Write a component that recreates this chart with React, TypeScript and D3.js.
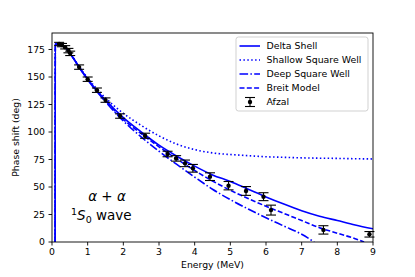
import React from 'react';
import * as d3 from 'd3';

// Afzal data points
const afzalEnergy = [0.2, 0.28, 0.37, 0.46, 0.51, 0.76, 1.0, 1.26, 1.5, 1.91, 2.61, 3.24, 3.48, 3.73, 3.95, 4.43, 4.95, 5.44, 5.93, 6.14, 7.61, 8.9];
const afzalPhase = [180, 179, 177, 174, 171.5, 159, 148, 138, 129, 114.5, 96.6, 80, 76, 71.5, 67, 59.4, 51.2, 46.4, 41.2, 29, 11, 7];
const afzalError = [1.5, 1.5, 1.5, 2, 2, 2, 2, 2, 2, 2, 2.3, 2.5, 2.5, 3, 3.5, 3.5, 3.8, 4, 3.6, 4.5, 3.8, 2.5];

// model curves
const modelEnergy = [0.088, 0.092, 0.2, 0.4, 0.6, 0.8, 1.0, 1.25, 1.5, 2.0, 2.5, 3.0, 3.5, 4.0, 4.5, 5.0, 5.5, 6.0, 6.5, 7.0, 7.5, 8.0, 8.5, 9.0];
const deltaShell = [0, 180, 179.5, 176, 167, 157, 148, 138, 129, 113, 100, 88, 78, 69, 61, 55, 48, 41, 34.5, 28.5, 23.5, 19.5, 15.5, 12];
const shallowWell = [0, 180, 179.5, 176, 167, 157.5, 149, 139.5, 131, 117, 106, 96.5, 89, 84, 81, 79.5, 78.5, 77.5, 77, 76.5, 76.2, 76, 75.7, 75.5];
const deepEnergy = [0.088, 0.092, 0.2, 0.4, 0.6, 0.8, 1.0, 1.25, 1.5, 2.0, 2.5, 3.0, 3.5, 4.0, 4.5, 5.0, 5.5, 6.0, 6.5, 7.0, 7.35];
const deepWell = [0, 180, 179.5, 176, 167, 157, 147.5, 137, 127.5, 110, 95.5, 82.5, 70.5, 59, 48, 38.5, 30, 22, 14.5, 7, 0];
const breitEnergy = [0.088, 0.092, 0.2, 0.4, 0.6, 0.8, 1.0, 1.25, 1.5, 2.0, 2.5, 3.0, 3.5, 4.0, 4.5, 5.0, 5.5, 6.0, 6.5, 7.0, 7.5, 8.0, 8.5, 8.75];
const breitModel = [0, 180, 179.5, 176, 167, 157, 148, 137.5, 128.5, 111.5, 98.5, 86.5, 75.5, 65, 55.5, 47, 39.5, 32.5, 26, 19.5, 13, 8, 3, 0];

const xTicks = [0, 1, 2, 3, 4, 5, 6, 7, 8, 9];
const yTicks = [0, 25, 50, 75, 100, 125, 150, 175];

const W = 415;
const H = 277;
const margin = { left: 52, right: 42, top: 33, bottom: 35 };
const FONT = 'DejaVu Sans, sans-serif';
const BLUE = '#0000ff';
const LW = 1.6;

function App() {
  const x = d3.scaleLinear().domain([0, 9]).range([margin.left, W - margin.right]);
  const y = d3.scaleLinear().domain([0, 190]).range([H - margin.bottom, margin.top]);

  const line = d3.line<[number, number]>()
    .x((d) => x(d[0]))
    .y((d) => y(d[1]))
    .curve(d3.curveMonotoneX);

  const zip = (a: number[], b: number[]) => a.map((v, i) => [v, b[i]] as [number, number]);

  const models = [
    { name: 'Delta Shell', pts: zip(modelEnergy, deltaShell), dash: '' },
    { name: 'Shallow Square Well', pts: zip(modelEnergy, shallowWell), dash: '1.5,2.4' },
    { name: 'Deep Square Well', pts: zip(deepEnergy, deepWell), dash: '8.6,2.3,1.5,2.3' },
    { name: 'Breit Model', pts: zip(breitEnergy, breitModel), dash: '5,2.3' },
  ];

  const x0 = margin.left;
  const x1 = W - margin.right;
  const y0 = H - margin.bottom;
  const y1 = margin.top;

  const legX = 236;
  const legY = 37;
  const rowH = 14;

  return (
    <svg width={W} height={H} style={{ position: 'absolute', left: 0, top: 0, background: '#fff' }} fontFamily={FONT}>
      <defs>
        <clipPath id="plot">
          <rect x={x0} y={y1} width={x1 - x0} height={y0 - y1} />
        </clipPath>
      </defs>

      <g clipPath="url(#plot)">
        {models.map((m) => (
          <path key={m.name} d={line(m.pts) ?? ''} fill="none" stroke={BLUE} strokeWidth={LW} strokeDasharray={m.dash} />
        ))}
      </g>

      {/* Afzal error bars */}
      <g stroke="#000" strokeWidth={1.1}>
        {afzalEnergy.map((e, i) => {
          const cx = x(e);
          const top = y(afzalPhase[i] + afzalError[i]);
          const bot = y(afzalPhase[i] - afzalError[i]);
          return (
            <g key={i}>
              <line x1={cx} x2={cx} y1={top} y2={bot} />
              <line x1={cx - 5} x2={cx + 5} y1={top} y2={top} />
              <line x1={cx - 5} x2={cx + 5} y1={bot} y2={bot} />
              <circle cx={cx} cy={y(afzalPhase[i])} r={2.2} fill="#000" stroke="none" />
            </g>
          );
        })}
      </g>

      {/* frame */}
      <rect x={x0} y={y1} width={x1 - x0} height={y0 - y1} fill="none" stroke="#000" strokeWidth={0.9} />

      {/* x axis */}
      {xTicks.map((t) => (
        <g key={t}>
          <line x1={x(t)} x2={x(t)} y1={y0} y2={y0 + 3.5} stroke="#000" strokeWidth={0.9} />
          <text x={x(t)} y={y0 + 13} textAnchor="middle" fontSize={9.3}>{t}</text>
        </g>
      ))}
      <text x={(x0 + x1) / 2} y={268} textAnchor="middle" fontSize={9.3}>Energy (MeV)</text>

      {/* y axis */}
      {yTicks.map((t) => (
        <g key={t}>
          <line x1={x0 - 3.5} x2={x0} y1={y(t)} y2={y(t)} stroke="#000" strokeWidth={0.9} />
          <text x={x0 - 7} y={y(t) + 3.3} textAnchor="end" fontSize={9.3}>{t}</text>
        </g>
      ))}
      <text transform={`translate(19, ${(y0 + y1) / 2}) rotate(-90)`} textAnchor="middle" fontSize={9.3}>Phase shift (deg)</text>

      {/* annotation */}
      <text x={107} y={201} textAnchor="middle" fontSize={13.5}>
        <tspan fontStyle="italic">α</tspan>
        <tspan> + </tspan>
        <tspan fontStyle="italic">α</tspan>
      </text>
      <text x={71} y={220} fontSize={13.5}>
        <tspan fontSize={9.5} dy={-5}>1</tspan>
        <tspan fontStyle="italic" dy={5}>S</tspan>
        <tspan fontSize={9.5} dy={3}>0</tspan>
        <tspan dy={-3}> wave</tspan>
      </text>

      {/* legend */}
      <rect x={legX} y={legY} width={132} height={74} rx={2.5} fill="#fff" fillOpacity={0.8} stroke="#cccccc" strokeWidth={0.9} />
      {models.map((m, i) => {
        const ly = legY + 9 + i * rowH;
        return (
          <g key={m.name}>
            <line x1={legX + 3.5} x2={legX + 24} y1={ly} y2={ly} stroke={BLUE} strokeWidth={LW} strokeDasharray={m.dash} />
            <text x={legX + 30.5} y={ly + 3.3} fontSize={9.4}>{m.name}</text>
          </g>
        );
      })}
      {(() => {
        const ly = legY + 9 + 4 * rowH;
        const cx = legX + 14;
        return (
          <g>
            <line x1={cx} x2={cx} y1={ly - 4.5} y2={ly + 4.5} stroke="#000" strokeWidth={1.1} />
            <line x1={cx - 5} x2={cx + 5} y1={ly - 4.5} y2={ly - 4.5} stroke="#000" strokeWidth={1.1} />
            <line x1={cx - 5} x2={cx + 5} y1={ly + 4.5} y2={ly + 4.5} stroke="#000" strokeWidth={1.1} />
            <circle cx={cx} cy={ly} r={2.2} fill="#000" />
            <text x={legX + 30.5} y={ly + 3.3} fontSize={9.4}>Afzal</text>
          </g>
        );
      })()}
    </svg>
  );
}

export default App;
